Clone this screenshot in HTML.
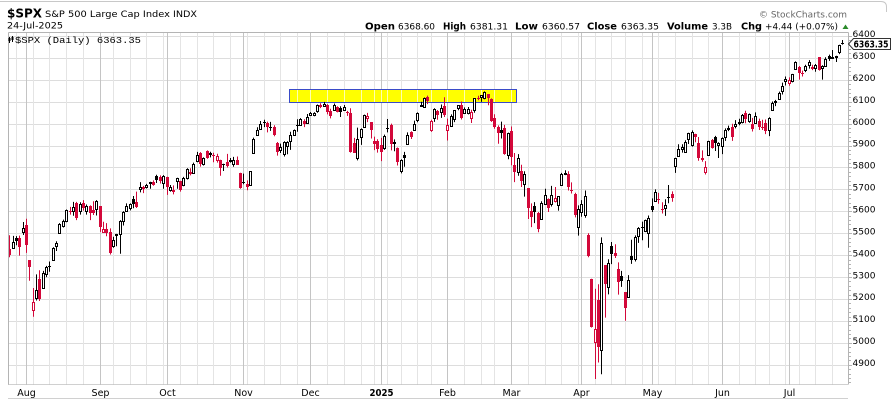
<!DOCTYPE html>
<html><head><meta charset="utf-8">
<style>
html,body{margin:0;padding:0;background:#fff;}
svg{display:block;}
text{font-family:"DejaVu Sans","Liberation Sans",sans-serif;fill:#000;}
.b{font-weight:bold;}
</style></head><body>
<svg id="c" width="891" height="400" viewBox="0 0 891 400" xmlns="http://www.w3.org/2000/svg">
<rect x="0" y="0" width="891" height="400" fill="#fff"/>
<path d="M0,1.5 H881 Q886.5,1.5 886.5,7 V12" fill="none" stroke="#c8c8c8" stroke-width="1"/>
<g id="grid"></g>
<g id="hl"></g>
<g id="cand"></g>
<g id="frame"></g>
<!-- header -->
<text x="7" y="17.5" font-size="12" class="b" textLength="35" lengthAdjust="spacingAndGlyphs">$SPX</text>
<text x="45" y="16.8" font-size="9" textLength="125" lengthAdjust="spacingAndGlyphs">S&amp;P 500 Large Cap Index</text>
<text x="173" y="16.8" font-size="8.5" textLength="24" lengthAdjust="spacingAndGlyphs">INDX</text>
<text x="7" y="28.5" font-size="8.5" textLength="56" lengthAdjust="spacingAndGlyphs">24-Jul-2025</text>
<text x="759" y="17.3" font-size="9" fill="#666" style="fill:#666" textLength="88" lengthAdjust="spacingAndGlyphs">© StockCharts.com</text>
<text x="365" y="29.3" font-size="9.5" class="b" textLength="30" lengthAdjust="spacingAndGlyphs">Open</text>
<text x="398" y="29.3" font-size="9" textLength="37" lengthAdjust="spacingAndGlyphs">6368.60</text>
<text x="443" y="29.3" font-size="9.5" class="b" textLength="23" lengthAdjust="spacingAndGlyphs">High</text>
<text x="470" y="29.3" font-size="9" textLength="38" lengthAdjust="spacingAndGlyphs">6381.31</text>
<text x="515" y="29.3" font-size="9.5" class="b" textLength="23" lengthAdjust="spacingAndGlyphs">Low</text>
<text x="542" y="29.3" font-size="9" textLength="38" lengthAdjust="spacingAndGlyphs">6360.57</text>
<text x="587" y="29.3" font-size="9.5" class="b" textLength="30" lengthAdjust="spacingAndGlyphs">Close</text>
<text x="621" y="29.3" font-size="9" textLength="38" lengthAdjust="spacingAndGlyphs">6363.35</text>
<text x="667" y="29.3" font-size="9.5" class="b" textLength="41" lengthAdjust="spacingAndGlyphs">Volume</text>
<text x="712" y="29.3" font-size="9" textLength="20" lengthAdjust="spacingAndGlyphs">3.3B</text>
<text x="741" y="29.3" font-size="9.5" class="b" textLength="21" lengthAdjust="spacingAndGlyphs">Chg</text>
<text x="765" y="29.3" font-size="9" textLength="73" lengthAdjust="spacingAndGlyphs">+4.44 (+0.07%)</text>
<polygon points="842.5,29 848.5,29 845.5,24.5" fill="#2a8a2a"/>
<!-- legend -->
<g fill="#000">
<rect x="9" y="37" width="1" height="6"/><rect x="8.5" y="38" width="2" height="3"/>
<rect x="12" y="36" width="1" height="6"/><rect x="11.5" y="37" width="2" height="3"/>
</g>
<text x="15" y="42.8" font-size="9" style="font-family:'Liberation Mono','DejaVu Sans Mono',monospace" textLength="126" lengthAdjust="spacingAndGlyphs">$SPX (Daily) 6363.35</text>
<g id="axis"></g>
<!-- price marker -->
<path d="M848.5,44 L853.5,38.5 H890.5 V49.5 H853.5 Z" fill="#fff" stroke="#333" stroke-width="1"/>
<text x="853.5" y="47.6" font-size="10" class="b" textLength="35" lengthAdjust="spacingAndGlyphs">6363.35</text>
</svg>
<script>
(function(){
const NS='http://www.w3.org/2000/svg';
function el(p,t,a){const e=document.createElementNS(NS,t);for(const k in a)e.setAttribute(k,a[k]);p.appendChild(e);return e;}
const X=i=>9.3+3.345*i;
const Y=p=>101.7+(6100-p)*0.2192;
const D=[
5428,5491,5390,5399, 5433,5488,5430,5459, 5477,5487,5445,5463, 5478,5489,5398,5436, 5505,5551,5492,5522,
5537,5566,5410,5446, 5376,5376,5283,5346, 5151,5250,5119,5186, 5206,5312,5193,5240, 5293,5331,5191,5199,
5252,5328,5250,5319, 5312,5351,5300,5344, 5352,5371,5324,5344, 5376,5436,5376,5434, 5442,5463,5419,5455,
5501,5546,5497,5543, 5531,5562,5526,5554, 5557,5608,5550,5608, 5603,5620,5585,5597, 5603,5643,5580,5620,
5637,5643,5560,5570, 5602,5641,5585,5634, 5639,5651,5603,5616, 5602,5631,5585,5625, 5624,5627,5560,5592,
5607,5646,5583,5591, 5612,5651,5581,5648, 5623,5623,5506,5528, 5506,5552,5503,5520, 5520,5546,5486,5503,
5507,5522,5403,5408, 5442,5484,5434,5471, 5490,5497,5441,5496, 5496,5560,5406,5554, 5557,5600,5535,5596,
5603,5636,5601,5626, 5615,5636,5604,5633, 5655,5670,5614,5634, 5641,5690,5615,5618, 5702,5733,5686,5713,
5709,5716,5683,5703, 5711,5725,5704,5718, 5727,5735,5703,5732, 5733,5741,5717,5722, 5762,5767,5729,5745,
5755,5764,5727,5738, 5727,5765,5703,5762, 5757,5758,5675,5709, 5698,5720,5690,5709, 5698,5718,5677,5699,
5737,5753,5703,5751, 5737,5739,5690,5696, 5719,5757,5714,5751, 5751,5796,5745,5792, 5778,5796,5764,5780,
5775,5822,5771,5815, 5829,5871,5824,5859, 5866,5870,5804,5815, 5816,5846,5809,5842, 5875,5878,5840,5841,
5860,5872,5846,5864, 5857,5867,5824,5853, 5832,5863,5822,5851, 5834,5835,5762,5797, 5816,5817,5784,5809,
5826,5862,5800,5808, 5833,5843,5822,5823, 5815,5848,5803,5832, 5832,5850,5811,5813, 5775,5776,5703,5705,
5735,5772,5723,5729, 5725,5741,5696,5712, 5722,5783,5722,5782, 5864,5936,5864,5929, 5947,5983,5947,5973,
5977,6012,5976,5996, 6009,6018,5984,6001, 6003,6009,5960,5984, 5985,6008,5967,5985, 5985,5993,5942,5949,
5912,5916,5854,5870, 5878,5909,5866,5893, 5863,5920,5850,5917, 5899,5920,5860,5917, 5922,5963,5880,5948,
5950,5973,5944,5969, 5993,6020,5963,5987, 5992,6025,5992,6021, 6014,6020,5984,5998, 6004,6044,6004,6032,
6040,6053,6035,6047, 6041,6052,6034,6050, 6058,6087,6050,6086, 6085,6093,6071,6075, 6082,6099,6079,6090,
6083,6089,6042,6053, 6057,6068,6024,6034, 6060,6092,6059,6085, 6074,6079,6051,6051, 6069,6079,6030,6051,
6063,6085,6059,6074, 6052,6058,6035,6050, 6047,6070,5868,5872, 5912,5935,5866,5867, 5842,5982,5832,5930,
5940,5978,5903,5974, 5984,6041,5982,6040, 6024,6049,6007,6037, 6006,6007,5932,5970, 5920,5941,5879,5907,
5920,5929,5868,5882, 5903,5935,5829,5869, 5891,5950,5880,5942, 5982,6021,5960,5975, 5993,6000,5878,5909,
5910,5928,5874,5918, 5890,5891,5809,5827, 5782,5837,5773,5836, 5859,5871,5803,5843, 5905,5960,5905,5950,
5962,5965,5930,5937, 5969,6014,5969,5997, 6015,6051,6006,6049, 6081,6100,6076,6086, 6076,6119,6074,6119,
6121,6128,6089,6101, 5969,6018,5962,6012, 6026,6070,6008,6068, 6058,6062,6018,6039, 6051,6087,6026,6071,
6082,6120,6030,6040, 5969,6023,5923,5994, 5990,6042,5990,6037, 6020,6062,6007,6061, 6072,6084,6061,6083,
6083,6101,6019,6026, 6047,6074,6045,6066, 6050,6076,6042,6068, 6026,6063,6003,6052, 6060,6116,6050,6115,
6115,6127,6107,6114, 6121,6130,6099,6129, 6118,6147,6111,6144, 6134,6134,6084,6117, 6114,6115,6008,6013,
6026,6043,5977,5983, 5983,5992,5908,5955, 5971,6009,5932,5956, 5981,5994,5858,5861, 5856,5959,5837,5955,
5968,5987,5810,5850, 5811,5866,5733,5778, 5781,5861,5762,5842, 5785,5812,5711,5738, 5726,5783,5667,5770,
5705,5706,5565,5615, 5603,5636,5528,5572, 5624,5642,5546,5599, 5594,5597,5504,5521, 5563,5646,5563,5639,
5635,5703,5631,5675, 5655,5659,5597,5615, 5632,5716,5622,5675, 5646,5711,5640,5662, 5630,5670,5603,5668,
5718,5775,5718,5768, 5775,5787,5765,5777, 5771,5783,5695,5712, 5695,5732,5681,5693, 5679,5685,5572,5581,
5527,5627,5489,5612, 5597,5651,5575,5633, 5581,5695,5571,5671, 5492,5500,5390,5397, 5292,5292,5070,5074,
5004,5247,4835,5062, 5194,5267,4910,4982, 4965,5481,4857,5457, 5353,5353,5115,5268, 5255,5381,5221,5363,
5442,5460,5359,5406, 5411,5450,5387,5397, 5335,5367,5220,5276, 5305,5328,5255,5283, 5232,5232,5101,5158,
5207,5309,5207,5287, 5395,5470,5360,5376, 5381,5490,5371,5485, 5489,5528,5456,5525, 5529,5553,5468,5529,
5508,5562,5505,5561, 5499,5581,5434,5569, 5625,5659,5597,5604, 5645,5700,5645,5687, 5657,5684,5634,5650,
5609,5641,5590,5607, 5614,5655,5579,5631, 5665,5720,5637,5664, 5680,5691,5644,5660, 5807,5844,5775,5844,
5854,5906,5853,5886, 5884,5906,5868,5892, 5870,5924,5867,5917, 5930,5958,5907,5958, 5903,5969,5895,5964,
5954,5954,5915,5940, 5910,5939,5831,5845, 5841,5878,5826,5842, 5781,5829,5768,5802, 5855,5922,5855,5922,
5925,5930,5886,5889, 5939,5944,5875,5912, 5903,5915,5843,5912, 5896,5937,5861,5936, 5938,5978,5921,5970,
5979,5991,5966,5971, 5985,5999,5921,5939, 5987,6016,5978,6000, 6004,6022,5993,6006, 6009,6044,6001,6039,
6049,6059,6002,6022, 6010,6046,6004,6045, 6000,6026,5964,5977, 6005,6051,6004,6033, 6012,6023,5971,5983,
5985,6018,5971,5981, 6004,6019,5952,5967, 5970,6029,5943,6025, 6062,6101,6059,6092, 6104,6108,6080,6092,
6112,6146,6108,6141, 6150,6187,6133,6173, 6193,6215,6174,6205, 6187,6211,6173,6198, 6193,6227,6188,6227,
6248,6284,6247,6279, 6259,6263,6201,6230, 6232,6242,6215,6226, 6245,6269,6235,6263, 6266,6290,6251,6280,
6256,6269,6244,6259, 6255,6272,6237,6269, 6302,6303,6242,6244, 6254,6266,6201,6264, 6265,6303,6262,6297,
6310,6315,6286,6297, 6304,6336,6303,6306, 6307,6310,6281,6309, 6327,6360,6317,6359, 6368.6,6381.31,6360.57,6363.35
];
const N=D.length/4;
// dates
const hol=new Set(['2024-09-02','2024-11-28','2024-12-25','2025-01-01','2025-01-09','2025-01-20','2025-02-17','2025-04-18','2025-05-26','2025-06-19','2025-07-04']);
const dates=[];let d=new Date(Date.UTC(2024,6,25));
while(dates.length<N){const w=d.getUTCDay();const s=d.toISOString().slice(0,10);if(w!==0&&w!==6&&!hol.has(s))dates.push(new Date(d.getTime()));d.setUTCDate(d.getUTCDate()+1);}
const grid=document.getElementById('grid'),hl=document.getElementById('hl'),cand=document.getElementById('cand'),frame=document.getElementById('frame'),axis=document.getElementById('axis');
const TOP=32.5,BOT=384.5,LEFT=8.5,RIGHT=848.5;
// horizontal grid
for(let p=4900;p<=6400;p+=100){const y=Math.round(Y(p))+0.5;el(grid,'line',{x1:LEFT,x2:RIGHT,y1:y,y2:y,stroke:'#dddddd','stroke-width':1});}
// vertical grid
const vlines=[];const majors=[];
for(let i=1;i<N;i++){
  const a=dates[i],b=dates[i-1];
  const isMonth=a.getUTCMonth()!==b.getUTCMonth();
  const isWeek=a.getUTCDay()<=b.getUTCDay();
  const x=Math.round(X(i))+0.5;
  if(isMonth){majors.push([i,a]);el(grid,'line',{x1:x,x2:x,y1:TOP,y2:BOT,stroke:'#c4c4c4','stroke-width':1});vlines.push(x);}
  else if(isWeek){el(grid,'line',{x1:x,x2:x,y1:TOP,y2:BOT,stroke:'#e4e4e4','stroke-width':1});vlines.push(x);}
}
// highlight box
el(hl,'rect',{x:289.5,y:89.5,width:227,height:13,fill:'#ffff00',stroke:'#3a4bc8','stroke-width':1});
vlines.forEach(x=>{if(x>290&&x<516)el(hl,'line',{x1:x,x2:x,y1:90,y2:102,stroke:'#ffffb0','stroke-width':1});});
// candles
const RED='#d3083a';
let prev=5427;
for(let i=0;i<N;i++){
  const O=D[4*i],H=D[4*i+1],L=D[4*i+2],C=D[4*i+3];
  const col=C>=prev?'#000':RED;
  const cx=Math.round(X(i));
  const wx=cx+0.5;
  const yH=Y(H),yL=Y(L);
  el(cand,'line',{x1:wx,x2:wx,y1:yH.toFixed(1),y2:yL.toFixed(1),stroke:col,'stroke-width':1});
  const yo=Y(O),yc=Y(C);
  const top=Math.min(yo,yc),bot=Math.max(yo,yc);
  if(C>O){
    let t=Math.round(top)+0.5,bb=Math.round(bot)+0.5;if(bb-t<1)bb=t+1;
    el(cand,'rect',{x:cx-0.5,y:t,width:2,height:bb-t,fill:'#fff',stroke:col,'stroke-width':1});
  }else{
    let t=Math.round(top),bb=Math.round(bot);if(bb-t<1)bb=t+1;
    el(cand,'rect',{x:cx-1,y:t,width:3,height:bb-t,fill:col});
  }
  prev=C;
}
// frame
el(frame,'line',{x1:LEFT,x2:RIGHT,y1:TOP,y2:TOP,stroke:'#b4b4b4','stroke-width':1});
el(frame,'line',{x1:LEFT,x2:LEFT,y1:TOP,y2:BOT,stroke:'#b4b4b4','stroke-width':1});
el(frame,'line',{x1:RIGHT,x2:RIGHT,y1:TOP,y2:BOT,stroke:'#b4b4b4','stroke-width':1});
el(frame,'line',{x1:LEFT,x2:RIGHT,y1:BOT,y2:BOT,stroke:'#a0a0a0','stroke-width':1,'stroke-dasharray':'1,1'});
el(frame,'line',{x1:LEFT,x2:RIGHT,y1:398.5,y2:398.5,stroke:'#a0a0a0','stroke-width':1,'stroke-dasharray':'1,1'});
// right axis ticks and labels
for(let p=4820;p<=6400;p+=20){const y=Math.round(Y(p))+0.5;const big=p%100===0;el(frame,'line',{x1:RIGHT,x2:big?852:851,y1:y,y2:y,stroke:'#b4b4b4','stroke-width':1});}
for(let p=4900;p<=6400;p+=100){
  if(p===6400){}
  const y=Y(p);
  const t=el(axis,'text',{x:852.5,y:(y+1.2).toFixed(1),'font-size':'9',textLength:'23',lengthAdjust:'spacingAndGlyphs'});
  t.textContent=String(p);
}
// month labels
const mn=['Jan','Feb','Mar','Apr','May','Jun','Jul','Aug','Sep','Oct','Nov','Dec'];
majors.forEach(([i,a])=>{
  const m=a.getUTCMonth();
  const x=Math.round(X(i))+0.5;
  const isYear=m===0;
  const t=el(axis,'text',{x:x,y:'396',
    'font-size':'9.5','text-anchor':'middle'});
  if(isYear){t.setAttribute('font-weight','bold');t.setAttribute('textLength','24');t.setAttribute('lengthAdjust','spacingAndGlyphs');t.textContent=String(a.getUTCFullYear());}
  else t.textContent=mn[m];
});
})();
</script>
</body></html>
